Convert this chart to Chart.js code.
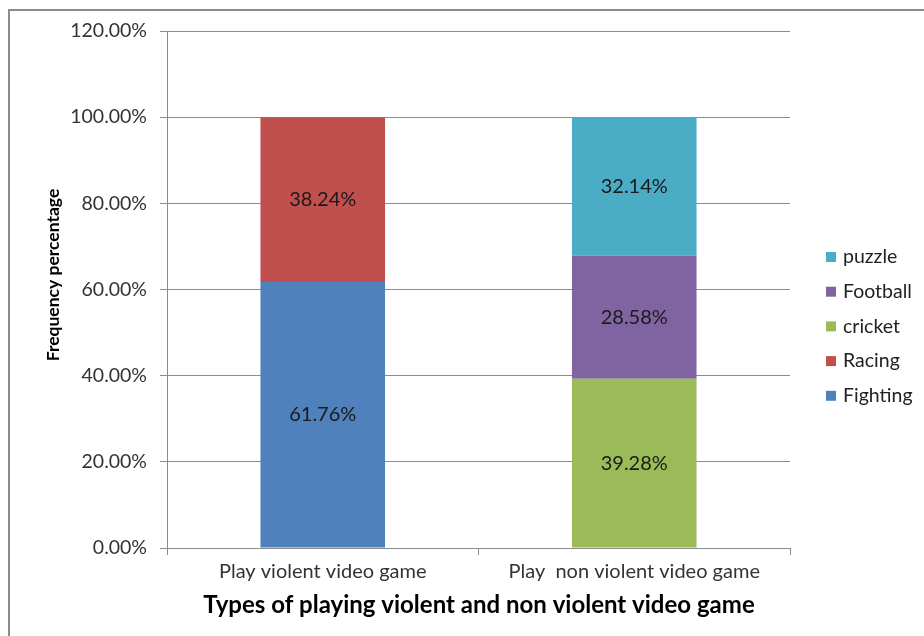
<!DOCTYPE html>
<html>

<head>
    <title>Video game types</title>
    <script src="https://cdn.jsdelivr.net/npm/chart.js"></script>
    <style>
        body { margin: 0; background: #fff; }
        #wrap { position: relative; width: 924px; height: 636px; overflow: hidden; }
        #frame { position: absolute; left: 8px; top: 9px; width: 1000px; height: 700px;
                 border-left: 2px solid #8c8c8c; border-top: 2px solid #8c8c8c; }
        canvas { position: absolute; left: 0; top: 0; }
    </style>
</head>

<body>
    <div id="wrap">
        <div id="frame"></div>
        <canvas id="chart" width="924" height="636"></canvas>
    </div>
    <script>
        const categories = ['Play violent video game', 'Play  non violent video game'];
        const seriesNames = ['Fighting', 'Racing', 'cricket', 'Football', 'puzzle'];
        const fighting = [61.76, null];
        const racing = [38.24, null];
        const cricket = [null, 39.28];
        const football = [null, 28.58];
        const puzzle = [null, 32.14];
        const colors = ['#4F81BD', '#C0504D', '#9BBB59', '#8064A2', '#4BACC6'];
        const yTicks = [0, 20, 40, 60, 80, 100, 120];

        const font = 'Lato, Calibri, sans-serif';

        const seriesData = [fighting, racing, cricket, football, puzzle];
        const datasets = seriesNames.map((name, i) => ({
            label: name,
            data: seriesData[i],
            backgroundColor: colors[i],
            borderWidth: 0,
            barPercentage: 0.4,
            categoryPercentage: 1
        }));

        // labels in the middle of each segment, legend at the right, axis titles
        const extras = {
            id: 'extras',
            afterDatasetsDraw(chart) {
                const ctx = chart.ctx;
                ctx.save();
                ctx.font = '20px ' + font;
                ctx.fillStyle = '#1a1a1a';
                ctx.textAlign = 'center';
                ctx.textBaseline = 'middle';
                chart.data.datasets.forEach((ds, i) => {
                    chart.getDatasetMeta(i).data.forEach((bar, j) => {
                        const v = ds.data[j];
                        if (v == null) return;
                        const mid = (bar.y + bar.base) / 2;
                        ctx.fillText(v.toFixed(2) + '%', bar.x, mid);
                    });
                });
                ctx.restore();
            },
            afterDraw(chart) {
                const ctx = chart.ctx;
                ctx.save();
                // legend, last series on top
                ctx.font = '19.5px ' + font;
                ctx.textBaseline = 'middle';
                ctx.textAlign = 'left';
                const n = chart.data.datasets.length;
                for (let k = 0; k < n; k++) {
                    const ds = chart.data.datasets[n - 1 - k];
                    const y = 257 + k * 34.7;
                    ctx.fillStyle = ds.backgroundColor;
                    ctx.fillRect(826, y - 5, 10, 10);
                    ctx.fillStyle = '#222';
                    ctx.fillText(ds.label, 843, y);
                }
                // axis titles
                ctx.fillStyle = '#000';
                ctx.font = 'bold 17.5px ' + font;
                ctx.textAlign = 'center';
                ctx.save();
                ctx.translate(53, 275);
                ctx.rotate(-Math.PI / 2);
                ctx.fillText('Frequency percentage', 0, 0);
                ctx.restore();
                ctx.font = 'bold 24px ' + font;
                ctx.fillText('Types of playing violent and non violent video game', 479, 605);
                ctx.restore();
            }
        };

        new Chart(document.getElementById('chart'), {
            type: 'bar',
            data: { labels: categories, datasets: datasets },
            options: {
                responsive: false,
                animation: false,
                layout: { padding: { left: 0, top: 31, right: 134, bottom: 0 } },
                plugins: { legend: { display: false }, tooltip: { enabled: false } },
                scales: {
                    x: {
                        stacked: true,
                        grid: { drawOnChartArea: false, color: '#8c8c8c', tickLength: 7 },
                        border: { color: '#8c8c8c' },
                        ticks: { color: '#333', font: { family: font, size: 20 }, padding: 5 },
                        afterFit(scale) { scale.height = 88; }
                    },
                    y: {
                        stacked: true,
                        min: 0,
                        max: 120,
                        afterBuildTicks(scale) { scale.ticks = yTicks.map(v => ({ value: v })); },
                        grid: { color: '#8c8c8c', tickLength: 7 },
                        border: { color: '#8c8c8c' },
                        ticks: {
                            color: '#333',
                            font: { family: font, size: 19.5 },
                            padding: 13,
                            callback: v => v.toFixed(2) + '%'
                        },
                        afterFit(scale) { scale.width = 167; }
                    }
                }
            },
            plugins: [extras]
        });
    </script>

</body>

</html>
